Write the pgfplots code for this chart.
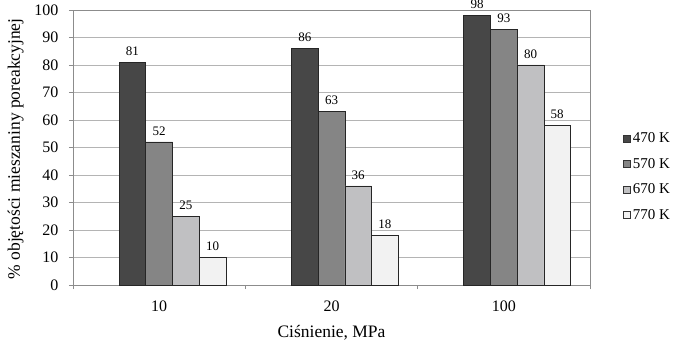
\documentclass[border=0pt]{standalone}
\usepackage{pgfplots}
\pgfplotsset{compat=1.18}
\usepackage{fontspec}
\setmainfont{Liberation Serif}
\definecolor{cA}{HTML}{474747}
\definecolor{cB}{HTML}{858585}
\definecolor{cC}{HTML}{C0C0C2}
\definecolor{cD}{HTML}{F2F2F2}
\definecolor{gridc}{HTML}{B4B4B4}
\definecolor{axc}{HTML}{8C8C8C}
\pgfplotsset{sqleg/.style={legend image code/.code={\draw[##1,draw=black!80,line width=0.6pt] (0pt,-3.5pt) rectangle (7pt,3.5pt);}}}
\begin{document}
\begin{tikzpicture}
\useasboundingbox (-73pt,-68pt) rectangle (606pt,285pt);
\begin{axis}[
  at={(0pt,0pt)}, anchor=south west,
  scale only axis, width=517pt, height=275pt,
  xmin=-0.5, xmax=2.5, ymin=0, ymax=100,
  ytick={0,10,...,100},
  xtick={-0.5,0.5,1.5,2.5},
  x tick label as interval,
  xticklabels={10,20,100},
  tick pos=left, tick align=outside, major tick length=4pt,
  tick style={axc, line width=0.8pt},
  axis line style={axc, line width=0.8pt},
  ymajorgrids, grid style={gridc, line width=0.8pt},
  /pgf/number format/assume math mode=true,
  ticklabel style={font=\fontsize{16}{16}\selectfont},
  xticklabel style={yshift=-8pt},
  yticklabel style={xshift=-7pt},
  xlabel={Ciśnienie, MPa},
  ylabel={\% objętości mieszaniny poreakcyjnej},
  label style={font=\fontsize{17.5}{17.5}\selectfont},
  xlabel style={at={(axis description cs:0.5,-0.175)}, anchor=center},
  ylabel style={at={(axis description cs:-0.111,0.495)}, anchor=center},
  clip=false,
  legend style={at={(1.058,0.393)}, anchor=west, draw=none, fill=none,
    font=\fontsize{15}{15}\selectfont, row sep=10pt, cells={anchor=west}},
  nodes near coords,
  every node near coord/.append style={font=\fontsize{13}{13}\selectfont, text=black, yshift=3pt},
  bar width=0.155,
]
\addplot[ybar, bar width=0.155, bar shift=-0.155, fill=cA, draw=black!85, line width=0.7pt, sqleg,
  every node near coord/.append style={xshift=-26.7pt}] coordinates {(0,81) (1,86) (2,98)};
\addlegendentry{470 K}
\addplot[ybar, bar width=0.155, bar shift=0, fill=cB, draw=black!85, line width=0.7pt, sqleg] coordinates {(0,52) (1,63) (2,93)};
\addlegendentry{570 K}
\addplot[ybar, bar width=0.155, bar shift=0.155, fill=cC, draw=black!85, line width=0.7pt, sqleg,
  every node near coord/.append style={xshift=26.7pt}] coordinates {(0,25) (1,36) (2,80)};
\addlegendentry{670 K}
\addplot[ybar, bar width=0.155, bar shift=0.31, fill=cD, draw=black!85, line width=0.7pt, sqleg,
  every node near coord/.append style={xshift=53.4pt}] coordinates {(0,10) (1,18) (2,58)};
\addlegendentry{770 K}
\end{axis}
\end{tikzpicture}
\end{document}
